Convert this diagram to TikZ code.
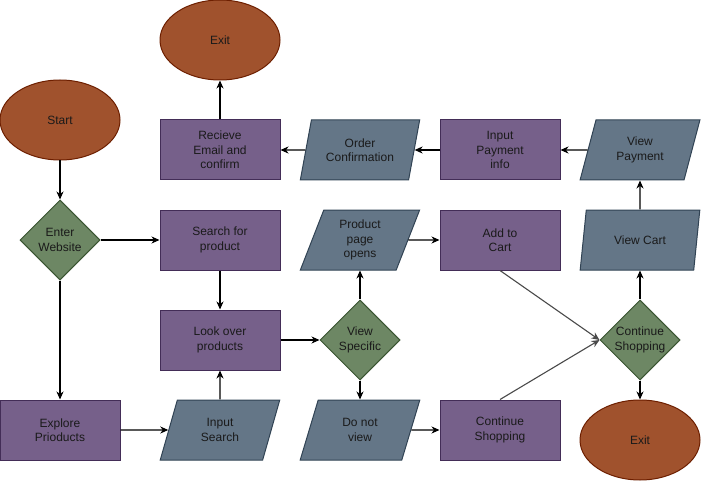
\documentclass[tikz,border=0pt]{standalone}
\usepackage{fontspec}
\setmainfont{Liberation Sans}
\usetikzlibrary{shapes.geometric,arrows.meta}
\definecolor{ellfill}{HTML}{A0522D}
\definecolor{elldraw}{HTML}{6D1F00}
\definecolor{recfill}{HTML}{76608A}
\definecolor{recdraw}{HTML}{432D57}
\definecolor{parfill}{HTML}{647687}
\definecolor{pardraw}{HTML}{314354}
\definecolor{diafill}{HTML}{6D8764}
\definecolor{diadraw}{HTML}{3A5431}
\definecolor{txtc}{HTML}{1A1A1A}
\definecolor{grayline}{HTML}{4A4A4A}
\begin{document}
\begin{tikzpicture}[x=1pt,y=-1pt, font=\fontsize{12}{14.5}\selectfont, text=txtc,
 base/.style={line width=1pt, align=center, inner sep=0pt},
 term/.style={base, ellipse, fill=ellfill, draw=elldraw, minimum width=120pt, minimum height=80pt},
 proc/.style={base, rectangle, fill=recfill, draw=recdraw, minimum width=120pt, minimum height=60pt},
 io/.style={base, trapezium, trapezium left angle=71.57, trapezium right angle=108.43, trapezium stretches=true, fill=parfill, draw=pardraw, minimum width=120pt, minimum height=60pt},
 dec/.style={base, diamond, fill=diafill, draw=diadraw, minimum width=80pt, minimum height=80pt},
 arr/.style={line width=1.1pt, -{Stealth[length=8pt,width=7pt,inset=2.5pt]}},
 garr/.style={arr, draw=grayline}]
\useasboundingbox (0,0) rectangle (701,481);

\node[term] (start) at (60,120) {Start};
\node[dec, label={[align=center]center:Enter\\Website}] (ew) at (60,240) {};
\node[proc] (explore) at (60,430) {Explore\\Prioducts};
\node[io] (insearch) at (220,430) {Input\\Search};
\node[proc] (look) at (220,340) {Look over\\products};
\node[proc] (search) at (220,240) {Search for\\product};
\node[proc] (recv) at (220,150) {Recieve\\Email and\\confirm};
\node[term] (exit1) at (220,40) {Exit};
\node[io] (order) at (360,150) {Order\\Confirmation};
\node[io] (ppage) at (360,240) {Product\\page\\opens};
\node[dec, label={[align=center]center:View\\Specific}] (vs) at (360,340) {};
\node[io] (dnv) at (360,430) {Do not\\view};
\node[proc] (inpay) at (500,150) {Input\\Payment\\info};
\node[proc] (addcart) at (500,240) {Add to\\Cart};
\node[proc] (cshop) at (500,430) {Continue\\Shopping};
\node[io] (vpay) at (640,150) {View\\Payment};
\node[io] (vcart) at (640,240) {View Cart};
\node[dec, label={[align=center]center:Continue\\Shopping}] (csd) at (640,340) {};
\node[term] (exit2) at (640,440) {Exit};

\draw[arr] (start) -- (ew);
\draw[arr] (ew) -- (search);
\draw[arr] (ew) -- (explore);
\draw[arr] (explore) -- (insearch);
\draw[arr] (insearch) -- (look);
\draw[arr] (search) -- (look);
\draw[arr] (look) -- (vs);
\draw[arr] (vs) -- (ppage);
\draw[arr] (vs) -- (dnv);
\draw[arr] (ppage) -- (addcart);
\draw[arr] (dnv) -- (cshop);
\draw[garr] (addcart.south) -- (csd.west);
\draw[garr] (cshop.north) -- (csd.west);
\draw[arr] (csd) -- (vcart);
\draw[arr] (csd) -- (exit2);
\draw[arr] (vcart) -- (vpay);
\draw[arr] (vpay) -- (inpay);
\draw[arr] (inpay) -- (order);
\draw[arr] (order) -- (recv);
\draw[arr] (recv) -- (exit1);
\end{tikzpicture}
\end{document}
